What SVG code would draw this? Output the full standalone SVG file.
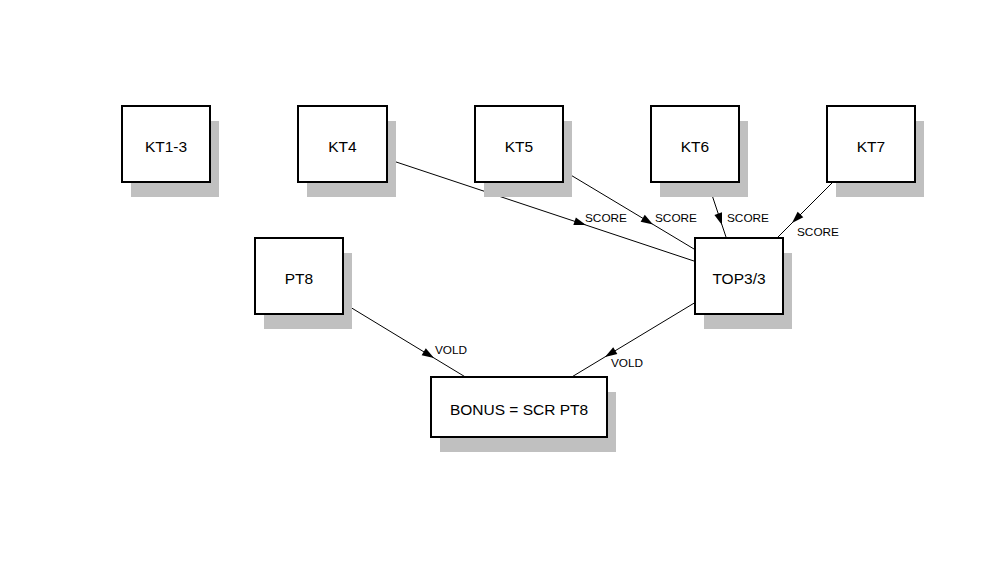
<svg xmlns="http://www.w3.org/2000/svg" width="1000" height="572" viewBox="0 0 1000 572">
<style>
.sh{fill:#c0c0c0;stroke:none}
.bx{fill:#fff;stroke:#000;stroke-width:2}
.nt{font-family:"Liberation Sans",Arial,sans-serif;font-size:15.5px;fill:#000;text-anchor:middle}
.lb{font-family:"Liberation Sans",Arial,sans-serif;font-size:11.8px;fill:#000}
.cn{fill:none;stroke:#000;stroke-width:1;marker-mid:url(#ah)}
</style>
<defs>
<marker id="ah" markerUnits="userSpaceOnUse" markerWidth="12" markerHeight="8" refX="12" refY="4" orient="auto" overflow="visible">
<path d="M0,0 L12,4 L0,8 z" fill="#000"/>
</marker>
</defs>
<rect width="1000" height="572" fill="#fff"/>
<g id="connectors">
<path class="cn" d="M342,144 L586,225.1 L739,276"/>
<path class="cn" d="M519,144 L653,224.4 L739,276"/>
<path class="cn" d="M695,144 L722,225 L739,276"/>
<path class="cn" d="M871,144 L792,223 L739,276"/>
<path class="cn" d="M299,276 L434,358 L515,407"/>
<path class="cn" d="M739,276 L605,356.9 L522,407"/>
<text class="lb" x="585" y="222">SCORE</text>
<text class="lb" x="655" y="222">SCORE</text>
<text class="lb" x="727" y="222">SCORE</text>
<text class="lb" x="797" y="236">SCORE</text>
<text class="lb" x="435" y="354">VOLD</text>
<text class="lb" x="611" y="367">VOLD</text>
</g>
<g id="KT1-3"><rect class="sh" x="131" y="121" width="88" height="76"/><rect class="bx" x="122" y="106" width="88" height="76"/><text class="nt" x="166" y="152">KT1-3</text></g>
<g id="KT4"><rect class="sh" x="307" y="121" width="89" height="76"/><rect class="bx" x="298" y="106" width="89" height="76"/><text class="nt" x="342.5" y="152">KT4</text></g>
<g id="KT5"><rect class="sh" x="484" y="121" width="88" height="76"/><rect class="bx" x="475" y="106" width="88" height="76"/><text class="nt" x="519" y="152">KT5</text></g>
<g id="KT6"><rect class="sh" x="660" y="121" width="88" height="76"/><rect class="bx" x="651" y="106" width="88" height="76"/><text class="nt" x="695" y="152">KT6</text></g>
<g id="KT7"><rect class="sh" x="836" y="121" width="88" height="76"/><rect class="bx" x="827" y="106" width="88" height="76"/><text class="nt" x="871" y="152">KT7</text></g>
<g id="PT8"><rect class="sh" x="264" y="253" width="88" height="76"/><rect class="bx" x="255" y="238" width="88" height="76"/><text class="nt" x="299" y="284">PT8</text></g>
<g id="TOP3-3"><rect class="sh" x="704" y="253" width="88" height="76"/><rect class="bx" x="695" y="238" width="88" height="76"/><text class="nt" x="739" y="284">TOP3/3</text></g>
<g id="BONUS"><rect class="sh" x="440" y="392" width="176" height="60"/><rect class="bx" x="431" y="377" width="176" height="60"/><text class="nt" x="519" y="415">BONUS = SCR PT8</text></g>
</svg>
